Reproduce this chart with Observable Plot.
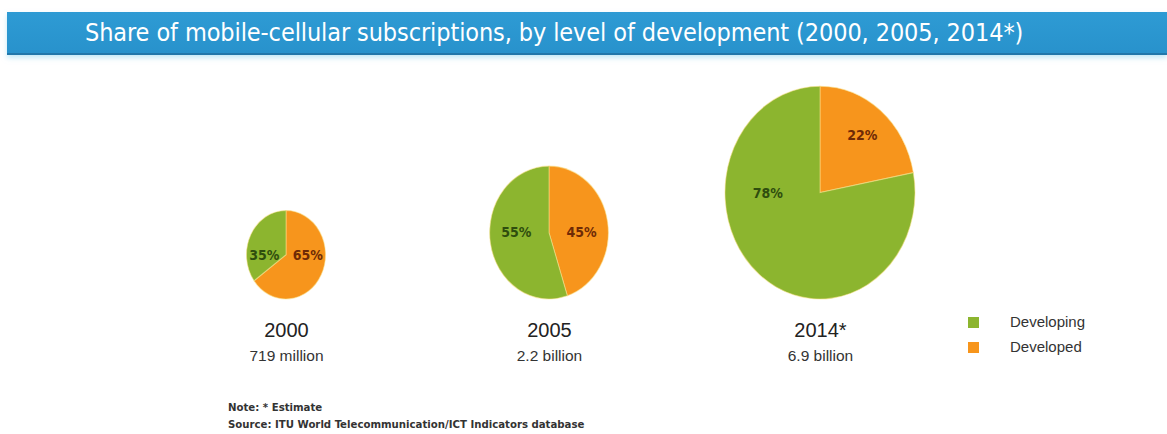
<!DOCTYPE html>
<html><head><meta charset="utf-8">
<script src="https://cdn.jsdelivr.net/npm/d3@7"></script>
<script src="https://cdn.jsdelivr.net/npm/@observablehq/plot@0.6"></script>
<style>
html,body{margin:0;padding:0;background:#fff;}
#wrap{position:relative;width:1167px;height:434px;overflow:hidden;font-family:"Liberation Sans",Arial,sans-serif;}
#titlebar{position:absolute;left:7px;top:12px;width:1160px;height:41px;background:linear-gradient(#2e9bd4,#2892cc);border-bottom:2px solid #2277aa;box-shadow:0 3px 5px rgba(150,215,240,0.55);}
#title{position:absolute;left:78px;top:0;line-height:41px;color:#fff;font-family:"Liberation Sans Narrow","DejaVu Sans Condensed",sans-serif;font-size:25px;white-space:nowrap;letter-spacing:-0.1px;}
#chart{position:absolute;left:0;top:60px;}
#legend{position:absolute;left:0;top:0;width:1167px;height:434px;pointer-events:none;}
.sw{position:absolute;width:11px;height:11px;}
.lt{position:absolute;font-size:15px;color:#333;line-height:18px;}
#notes{position:absolute;left:228px;top:399px;font-family:"Liberation Sans Narrow","DejaVu Sans Condensed",sans-serif;font-weight:bold;font-size:11.3px;line-height:17px;color:#333;white-space:nowrap;}
</style>
</head><body>
<div id="wrap">
  <div id="titlebar"><div id="title"></div></div>
  <div id="chart"></div>
  <div id="legend"></div>
  <div id="notes"></div>
</div>
<script>
// ---- data ----
const titleText = "Share of mobile-cellular subscriptions, by level of development (2000, 2005, 2014*)";
const years = [2000, 2005, 2014];
const yearLabels = ["2000", "2005", "2014*"];
const totals = [0.719, 2.2, 6.9];            // billions of subscriptions
const totalLabels = ["719 million", "2.2 billion", "6.9 billion"];
const developing = [35, 55, 78];              // % share
const developed = [65, 45, 22];               // % share
const seriesNames = ["Developing", "Developed"];
const seriesColors = ["#8cb52f", "#f7951c"];
const labelColors = ["#2f4d0e", "#6e2a06"];
const noteLines = ["Note: * Estimate", "Source: ITU World Telecommunication/ICT Indicators database"];

// ---- build ----
document.getElementById("title").textContent = titleText;
document.getElementById("notes").innerHTML = noteLines.map(t => `<div>${t}</div>`).join("");

const rows = years.map((y, i) => ({year: y, yearLabel: yearLabels[i], total: totals[i], totalLabel: totalLabels[i], developing: developing[i], developed: developed[i]}));
const color = Plot.scale({color: {domain: seriesNames, range: seriesColors}});
const labelColor = Plot.scale({color: {domain: seriesNames, range: labelColors}});
const stretch = 1.12;

function pies(index, scales, values, dimensions) {
  const g = d3.create("svg:g");
  const base = dimensions.height - dimensions.marginBottom;
  for (const i of index) {
    const cx = values.x[i], r = values.r[i], ry = r * stretch, cy = base - ry;
    const slices = [{key: "Developed", v: rows[i].developed}, {key: "Developing", v: rows[i].developing}];
    const arcs = d3.pie().sort(null).value(d => d.v)(slices);
    const pg = g.append("g").attr("transform", `translate(${cx},${cy}) scale(1,${stretch})`);
    pg.selectAll("path").data(arcs).join("path")
      .attr("d", d3.arc().innerRadius(0).outerRadius(r))
      .attr("fill", d => color.apply(d.data.key))
      .attr("stroke", "rgba(250,225,140,0.55)").attr("stroke-width", 1);
    for (const a of arcs) {
      const mid = (a.startAngle + a.endAngle) / 2;
      let lx, ly;
      if (a.data.v >= 30) { lx = Math.sign(Math.sin(mid)) * 0.55 * r; ly = 0; }
      else { lx = Math.sin(mid) * 0.7 * r; ly = -Math.cos(mid) * 0.7 * ry; }
      g.append("text")
        .attr("x", cx + lx).attr("y", cy + ly)
        .attr("text-anchor", "middle").attr("dy", "0.35em")
        .attr("font-family", "'DejaVu Sans Condensed', sans-serif")
        .attr("font-weight", "bold").attr("font-size", 14)
        .attr("fill", labelColor.apply(a.data.key))
        .text(a.data.v + "%");
    }
  }
  return g.node();
}

const plot = Plot.plot({
  width: 1167, height: 330,
  marginTop: 0, marginLeft: 0, marginRight: 0, marginBottom: 91,
  x: {type: "linear", domain: years, range: [286, 549, 820], axis: null},
  r: {type: "sqrt", domain: [0.719, 6.9], range: [39.5, 95]},
  marks: [
    Plot.dot(rows, {x: "year", r: "total", fill: "none", stroke: "none", render: pies}),
    Plot.text(rows, {x: "year", text: "yearLabel", frameAnchor: "bottom", dy: 37, fontSize: 20, fill: "#222", fontFamily: "'Liberation Sans', Arial, sans-serif"}),
    Plot.text(rows, {x: "year", text: "totalLabel", frameAnchor: "bottom", dy: 61, fontSize: 15.5, fill: "#333", fontFamily: "'Liberation Sans', Arial, sans-serif"})
  ]
});
document.getElementById("chart").appendChild(plot);

const legend = document.getElementById("legend");
seriesNames.forEach((name, i) => {
  const sw = document.createElement("div");
  sw.className = "sw"; sw.style.left = "968px"; sw.style.top = (317 + i * 25) + "px";
  sw.style.background = color.apply(name);
  legend.appendChild(sw);
  const t = document.createElement("div");
  t.className = "lt"; t.style.left = "1010px"; t.style.top = (313 + i * 25) + "px";
  t.textContent = name;
  legend.appendChild(t);
});
</script>
</body></html>
